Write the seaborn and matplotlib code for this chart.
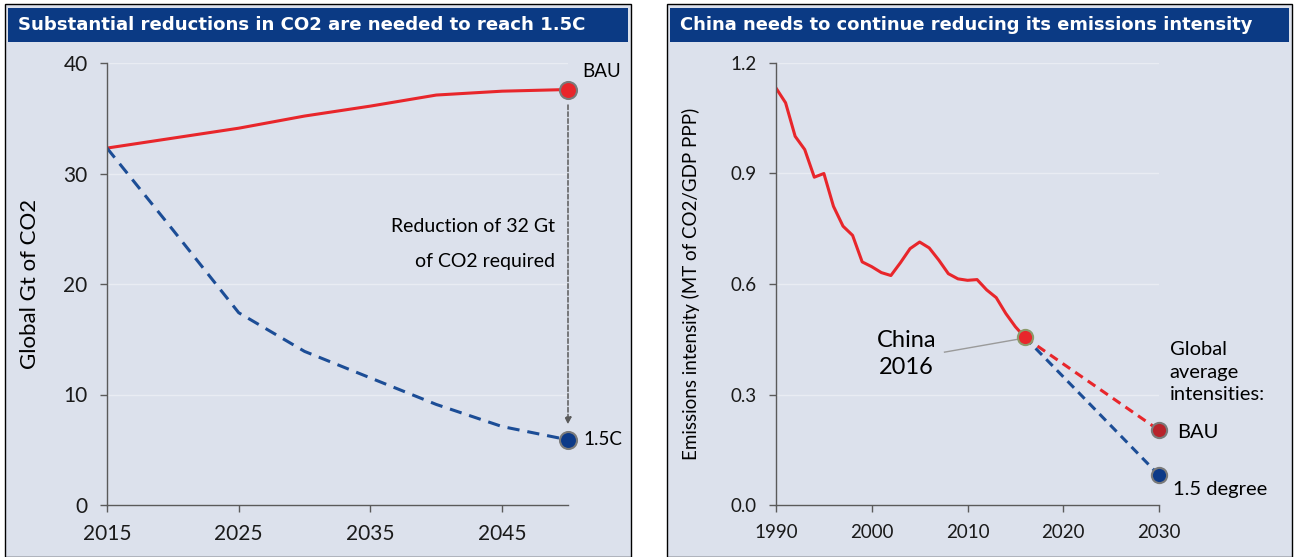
import numpy as np
import pandas as pd
import matplotlib
matplotlib.use('Agg')
import matplotlib.pyplot as plt
from matplotlib.patches import Rectangle
import seaborn as sns

# left panel: global CO2 pathways
co2_years = [2015, 2020, 2025, 2030, 2035, 2040, 2045, 2050]
co2_bau = [32.3, 33.2, 34.1, 35.2, 36.1, 37.1, 37.45, 37.6]
co2_15c_years = [2015, 2020, 2025, 2030, 2035, 2040, 2045, 2050]
co2_15c = [32.3, 24.9, 17.4, 13.9, 11.5, 9.1, 7.1, 5.9]

# right panel: China emissions intensity
china_years = list(range(1990, 2017))
china_int = [1.132, 1.092, 1.001, 0.965, 0.890, 0.900, 0.811, 0.757, 0.732, 0.660,
             0.647, 0.631, 0.623, 0.658, 0.696, 0.714, 0.698, 0.665, 0.628, 0.614,
             0.610, 0.612, 0.584, 0.563, 0.520, 0.484, 0.455]
proj_years = [2016, 2030]
proj_bau = [0.455, 0.203]
proj_15 = [0.455, 0.081]

RED = '#e8262b'
DRED = '#b8232b'
BLUE = '#1c4d96'
DBLUE = '#0d3a88'
NAVY = '#0b3a84'
BG = '#dce1ec'
GRID = '#e9ecf3'
SPINE = '#5a5a5a'

plt.rcParams['font.family'] = ['Lato', 'DejaVu Sans']

W, H = 1295, 557
fig = plt.figure(figsize=(W / 100, H / 100), dpi=100)


def px(x0, y0, w, h):
    # pixel box (top-left origin) -> figure fraction
    return [x0 / W, 1 - (y0 + h) / H, w / W, h / H]


def panel(x0, x1, title, size):
    fig.patches.append(Rectangle((x0 / W, 0), (x1 - x0) / W, 1 - 4 / H, transform=fig.transFigure,
                                 facecolor=BG, edgecolor='black', lw=1.0, zorder=-2))
    fig.patches.append(Rectangle(((x0 + 3) / W, 1 - 42 / H), (x1 - x0 - 6) / W, 34 / H,
                                 transform=fig.transFigure, facecolor=NAVY, edgecolor='none', zorder=-1))
    fig.text((x0 + 13) / W, 1 - 25 / H, title, color='white', fontsize=size, fontweight='bold',
             va='center', ha='left', family='DejaVu Sans')


panel(5, 631, 'Substantial reductions in CO2 are needed to reach 1.5C', 13.1)
panel(667, 1292, 'China needs to continue reducing its emissions intensity', 12.9)


def style_axes(ax, size):
    ax.set_facecolor('none')
    for s in ['top', 'right']:
        ax.spines[s].set_visible(False)
    for s in ['left', 'bottom']:
        ax.spines[s].set_color(SPINE)
        ax.spines[s].set_linewidth(1.0)
    ax.tick_params(axis='both', colors=SPINE, labelcolor='#1a1a1a', labelsize=size,
                   length=5, width=1, pad=9)
    ax.grid(axis='y', color=GRID, lw=1.0)
    ax.set_axisbelow(True)


# ---- left chart
ax1 = fig.add_axes(px(107, 63, 461, 442))
style_axes(ax1, 15)
sns.lineplot(x=co2_years, y=co2_bau, ax=ax1, color=RED, lw=2.2)
sns.lineplot(x=co2_15c_years, y=co2_15c, ax=ax1, color=BLUE, lw=2.2, linestyle=(0, (4, 2.6)))
sns.scatterplot(x=[co2_years[-1]], y=[co2_bau[-1]], ax=ax1, color=RED, edgecolor='#7a7a7a',
                linewidth=1.5, s=150, zorder=5, clip_on=False)
sns.scatterplot(x=[co2_15c_years[-1]], y=[co2_15c[-1]], ax=ax1, color=DBLUE, edgecolor='#7a7a7a',
                linewidth=1.5, s=150, zorder=5, clip_on=False)
ax1.annotate('', xy=(2050, 7.3), xytext=(2050, 36.2),
             arrowprops=dict(arrowstyle='-|>', color=SPINE, lw=1.1, linestyle=(0, (3, 1.5)),
                             mutation_scale=10, shrinkA=0, shrinkB=0))
ax1.text(2049, 25.2, 'Reduction of 32 Gt', ha='right', va='center', fontsize=14)
ax1.text(2049, 22.0, 'of CO2 required', ha='right', va='center', fontsize=14)
ax1.text(2051.1, 39.2, 'BAU', ha='left', va='center', fontsize=13.5)
ax1.text(2051.2, 5.9, '1.5C', ha='left', va='center', fontsize=13.5)
ax1.set_xlim(2015, 2050)
ax1.set_ylim(0, 40)
ax1.set_xticks([2015, 2025, 2035, 2045])
ax1.set_yticks([0, 10, 20, 30, 40])
ax1.set_ylabel('Global Gt of CO2', fontsize=16, labelpad=17)

# ---- right chart
ax2 = fig.add_axes(px(776, 63, 383, 442))
style_axes(ax2, 13.5)
sns.lineplot(x=china_years, y=china_int, ax=ax2, color=RED, lw=2.2)
sns.lineplot(x=proj_years, y=proj_bau, ax=ax2, color=RED, lw=2.2, linestyle=(0, (3, 2)))
sns.lineplot(x=proj_years, y=proj_15, ax=ax2, color=BLUE, lw=2.2, linestyle=(0, (3, 2)))
sns.scatterplot(x=[china_years[-1]], y=[china_int[-1]], ax=ax2, color=RED, edgecolor='#8c9a6a',
                linewidth=1.5, s=120, zorder=5)
sns.scatterplot(x=[proj_years[-1]], y=[proj_bau[-1]], ax=ax2, color=DRED, edgecolor='#7a7a7a',
                linewidth=1.5, s=120, zorder=5, clip_on=False)
sns.scatterplot(x=[proj_years[-1]], y=[proj_15[-1]], ax=ax2, color=DBLUE, edgecolor='#7a7a7a',
                linewidth=1.5, s=120, zorder=5, clip_on=False)
ax2.plot([2007.6, 2015.7], [0.415, 0.452], color='#9a9a9a', lw=1.0)
ax2.text(2003.6, 0.41, 'China\n2016', ha='center', va='center', fontsize=17, linespacing=1.3)
ax2.text(2031.1, 0.361, 'Global\naverage\nintensities:', ha='left', va='center', fontsize=14.5,
         linespacing=1.4)
ax2.text(2031.9, 0.198, 'BAU', ha='left', va='center', fontsize=14.5)
ax2.text(2031.5, 0.043, '1.5 degree', ha='left', va='center', fontsize=14.5)
ax2.set_xlim(1990, 2030)
ax2.set_ylim(0, 1.2)
ax2.set_xticks([1990, 2000, 2010, 2020, 2030])
ax2.set_yticks([0.0, 0.3, 0.6, 0.9, 1.2])
ax2.yaxis.set_major_formatter(matplotlib.ticker.FormatStrFormatter('%.1f'))
ax2.set_ylabel('Emissions intensity (MT of CO2/GDP PPP)', fontsize=13.5, labelpad=22)

fig.savefig('out.png', dpi=100)
